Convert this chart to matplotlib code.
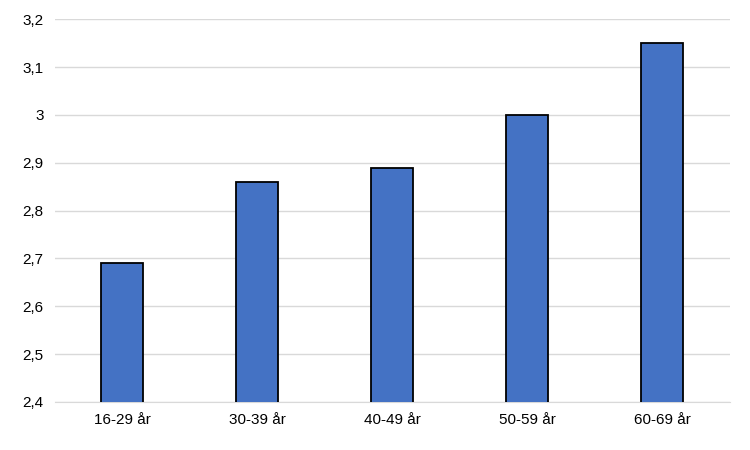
import matplotlib
matplotlib.use("Agg")
import matplotlib.pyplot as plt

categories = ["16-29 år", "30-39 år", "40-49 år", "50-59 år", "60-69 år"]
values = [2.69, 2.86, 2.89, 3.0, 3.15]
yticks = [2.4, 2.5, 2.6, 2.7, 2.8, 2.9, 3.0, 3.1, 3.2]
ylabels = ["2,4", "2,5", "2,6", "2,7", "2,8", "2,9", "3", "3,1", "3,2"]

plt.rcParams['font.family'] = ['Liberation Sans', 'DejaVu Sans']
fig = plt.figure(figsize=(7.5, 4.5), dpi=100)
ax = fig.add_axes([0.073, 0.107, 0.9, 0.85])
x = range(len(categories))
ax.bar(x, values, width=0.31, color="#4472C4", edgecolor="black", linewidth=1.3, zorder=3)
ax.set_ylim(2.4, 3.2)
ax.set_xlim(-0.5, 4.5)
ax.set_yticks(yticks)
ax.set_yticklabels(ylabels, fontsize=11)
ax.set_xticks(list(x))
ax.set_xticklabels(categories, fontsize=11)
ax.grid(axis="y", color="#d9d9d9", linewidth=1, zorder=0)
for s in ["top", "right", "left"]:
    ax.spines[s].set_visible(False)
ax.spines["bottom"].set_color("#d9d9d9")
ax.tick_params(length=0, pad=8)
fig.savefig("out.png")
